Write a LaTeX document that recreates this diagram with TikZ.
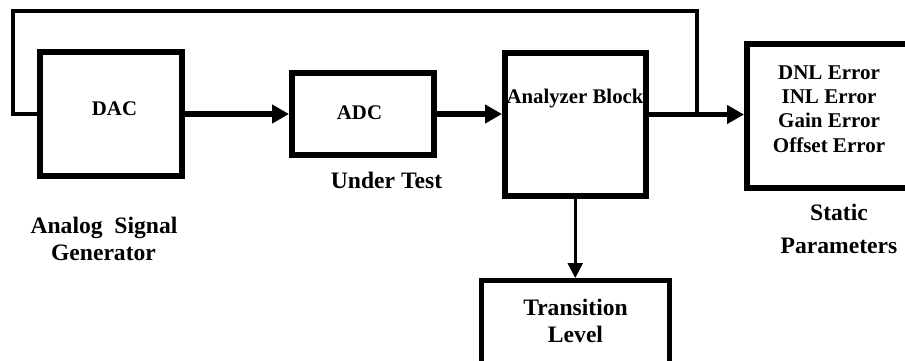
\documentclass[tikz,border=0pt]{standalone}
\usepackage{fontspec}
\setmainfont{Liberation Serif}
\usetikzlibrary{arrows.meta}
\begin{document}
\begin{tikzpicture}[x=0.5pt,y=-0.5pt,
  blk/.style={draw,line width=3pt,minimum width=#1*0.5pt,inner sep=0pt,outer sep=0pt},
  intxt/.style={anchor=base,inner sep=0pt,font=\fontsize{10.4}{12}\bfseries},
  errtxt/.style={anchor=base,inner sep=0pt,font=\fontsize{10.5}{12}\bfseries},
  lbl/.style={anchor=base,inner sep=0pt,font=\fontsize{11.8}{14}\bfseries},
  thick arrow/.style={line width=2.7pt,-{Triangle[length=8.5pt,width=9pt]}},
  thin arrow/.style={line width=1.3pt,-{Triangle[length=7.5pt,width=7.5pt]}},
  fb/.style={line width=2pt,line join=miter}]
\clip (0,0) rectangle (905,360);
\fill[white] (0,0) rectangle (905,360);
% boxes
\node[blk=142,minimum height=62pt,outer sep=1.5pt] (dac) at (111,114) {};
\node[blk=142,minimum height=41pt,outer sep=1.5pt] (adc) at (363,114) {};
\node[blk=140.5,minimum height=71.5pt,outer sep=1.5pt] (ana) at (575.25,124.5) {};
\node[blk=173,minimum height=72pt,outer sep=1.5pt] (stat) at (833.5,116) {};
\node[blk=188,minimum height=50pt,line width=2.5pt,outer sep=1.25pt] (trans) at (575,330.5) {};
% texts
\node[intxt] (dact) at (114.5,115) {DAC};
\node[intxt] (adct) at (359.5,119) {ADC};
\node[intxt] (anat) at (575,103) {Analyzer Block};
\node[errtxt] (e1) at (829,79) {DNL Error};
\node[errtxt] (e2) at (829,103) {INL Error};
\node[errtxt] (e3) at (829,127.5) {Gain Error};
\node[errtxt] (e4) at (829,152) {Offset Error};
\node[lbl] (ut) at (386.5,188) {Under Test};
\node[lbl] (st1) at (839,220) {Static};
\node[lbl] (st2) at (839,253) {Parameters};
\node[lbl] (tr1) at (575.5,315) {Transition};
\node[lbl] (tr2) at (575.5,342) {Level};
\node[lbl] (ag1) at (104,233) {Analog~~Signal};
\node[lbl] (ag2) at (103.5,260) {Generator};
% connectors
\coordinate (j) at (697,114.5);
\coordinate (tr) at (697,11);
\coordinate (tl) at (13,11);
\draw[thick arrow] (dac.east) -- (adc.west);
\draw[thick arrow] (adc.east) -- (adc.east -| ana.west);
\draw[thick arrow] (ana.east |- j) -- (j -| stat.west);
\draw[thin arrow] (ana.south) -- (ana.south |- trans.north);
\draw[fb] (j) -- (tr) -- (tl) |- (dac.west);
\end{tikzpicture}
\end{document}
